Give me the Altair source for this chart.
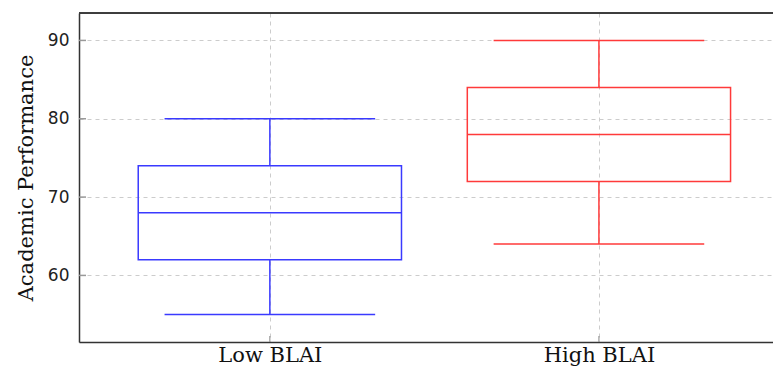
import altair as alt
import pandas as pd

categories = ["Low BLAI", "High BLAI"]
mins = [55, 64]
q1s = [62, 72]
medians = [68, 78]
q3s = [74, 84]
maxs = [80, 90]
colors = ["#3a3aff", "#ff3a3a"]
y_ticks = [60, 70, 80, 90]

box_half = 0.40
cap_half = 0.32
W, H = 694, 329

rows = []
for i, c in enumerate(categories):
    p = i + 1
    rows.append(dict(cat=c, pos=p, lo=p - box_half, hi=p + box_half,
                     clo=p - cap_half, chi=p + cap_half,
                     mn=mins[i], q1=q1s[i], med=medians[i], q3=q3s[i], mx=maxs[i]))
df = pd.DataFrame(rows)
ticks_df = pd.DataFrame({"v": y_ticks})

label_expr = " : ".join(
    [f"datum.value == {i+1} ? '{c}'" for i, c in enumerate(categories)]
) + " : ''"

xscale = alt.Scale(domain=[0.42, 2.529], nice=False, zero=False)
yscale = alt.Scale(domain=[51.5, 93.5], nice=False, zero=False)
col = alt.Color("cat:N", scale=alt.Scale(domain=categories, range=colors), legend=None)

xaxis = alt.Axis(values=[1, 2], labelExpr=label_expr, title=None, grid=True,
                 gridDash=[4, 4], gridColor="#cccccc", ticks=False,
                 labelFont="DejaVu Serif", labelFontSize=21,
                 labelColor="#111111", labelPadding=2, domainColor="#333333",
                 domainWidth=1.5)
yaxis = alt.Axis(values=y_ticks, title="Academic Performance", grid=True,
                 gridDash=[4, 4], gridColor="#cccccc", ticks=False,
                 labelFont="DejaVu Sans", labelFontSize=17,
                 labelColor="#222222", labelPadding=10,
                 titleFont="DejaVu Serif", titleFontSize=21,
                 titleFontWeight="normal", titleColor="#111111",
                 titlePadding=11, domainColor="#333333", domainWidth=1.5)

base = alt.Chart(df)

whisk_lo = base.mark_rule(strokeWidth=1.5).encode(
    x=alt.X("pos:Q", scale=xscale, axis=xaxis),
    y=alt.Y("mn:Q", scale=yscale, axis=yaxis), y2="q1:Q", color=col)
whisk_hi = base.mark_rule(strokeWidth=1.5).encode(
    x="pos:Q", y="q3:Q", y2="mx:Q", color=col)
cap_lo = base.mark_rule(strokeWidth=1.5).encode(
    x="clo:Q", x2="chi:Q", y="mn:Q", color=col)
cap_hi = base.mark_rule(strokeWidth=1.5).encode(
    x="clo:Q", x2="chi:Q", y="mx:Q", color=col)
box = base.mark_rect(fillOpacity=0, strokeWidth=1.5).encode(
    x="lo:Q", x2="hi:Q", y="q1:Q", y2="q3:Q", stroke=col)
med = base.mark_rule(strokeWidth=1.5).encode(
    x="lo:Q", x2="hi:Q", y="med:Q", color=col)

ytick_marks = alt.Chart(ticks_df).mark_rule(color="#999999", strokeWidth=1.5).encode(
    y="v:Q", x=alt.value(0), x2=alt.value(7))
xtick_marks = base.mark_rule(color="#888888", strokeWidth=1).encode(
    x="pos:Q", y=alt.value(H), y2=alt.value(H - 6))
top_border = base.mark_rule(color="#333333", strokeWidth=1.5).encode(
    x=alt.value(0), x2=alt.value(W), y=alt.value(0))

chart = alt.layer(ytick_marks, xtick_marks, whisk_lo, whisk_hi, cap_lo, cap_hi,
                  box, med, top_border).properties(
    width=W, height=H,
    autosize=alt.AutoSizeParams(type="none"),
    padding={"left": 71, "top": 5, "right": 0, "bottom": 360 - 5 - H},
).configure_view(strokeWidth=0).configure(background="white")

chart.save("out.html", embed_options={"renderer": "svg", "actions": False})
